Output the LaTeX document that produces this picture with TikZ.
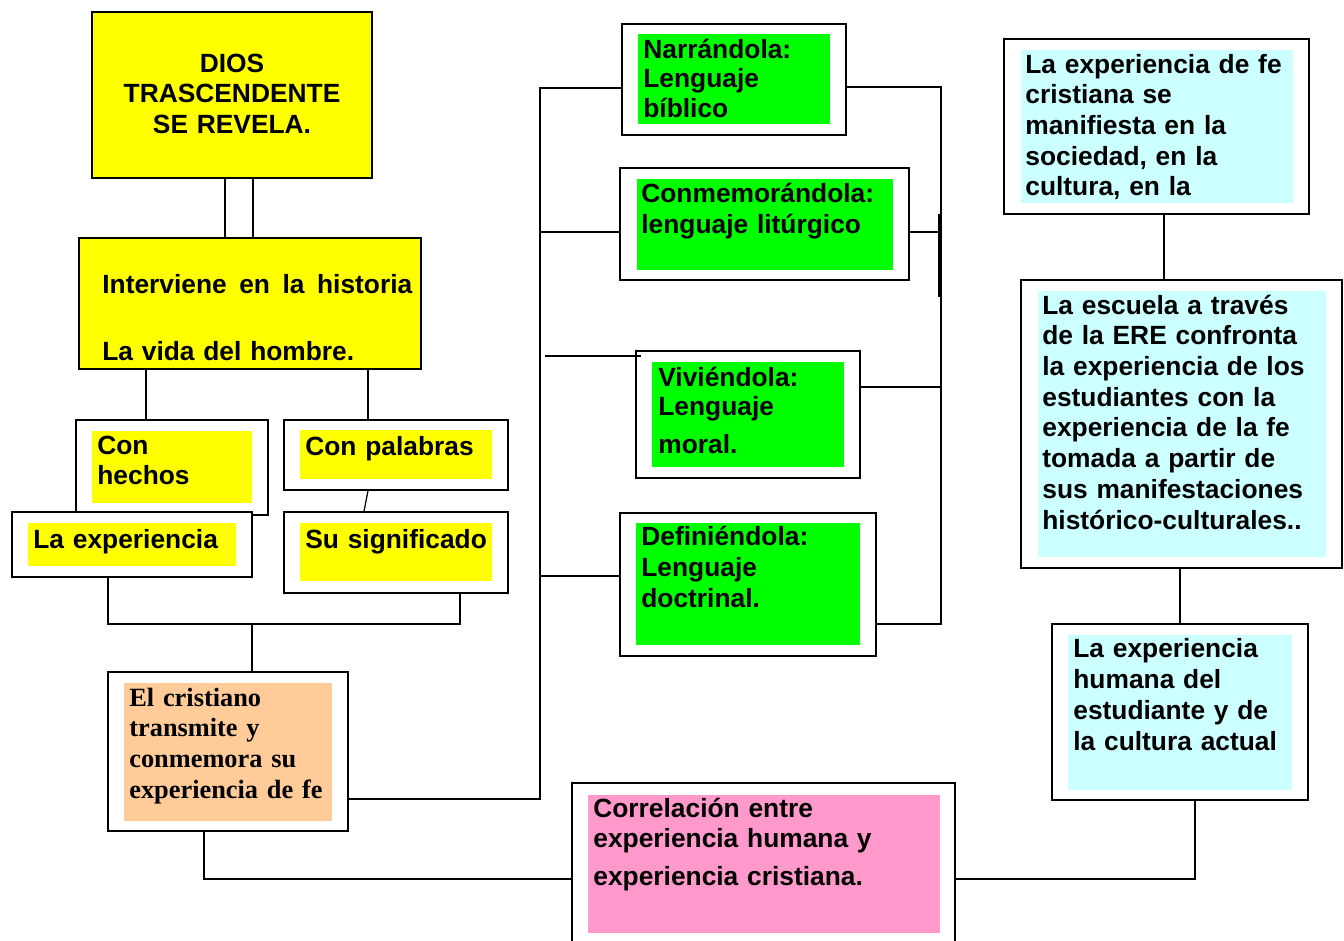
\documentclass[tikz,border=0pt]{standalone}
\usepackage{fontspec}
\setmainfont{Liberation Sans}
\newfontfamily\timesfont{Liberation Serif}
\usetikzlibrary{fit}
\definecolor{amarillo}{HTML}{FFFF00}
\definecolor{verde}{HTML}{00FF00}
\definecolor{celeste}{HTML}{CCFFFF}
\definecolor{durazno}{HTML}{FFCC99}
\definecolor{rosa}{HTML}{FF99CC}
\begin{document}
\begin{tikzpicture}[x=0.02cm,y=-0.02cm,
  caja/.style={draw,line width=0.8pt,fill=white,inner sep=0pt},
  fondo/.style={inner sep=0pt,fill=#1},
  texto/.style={anchor=base west,inner sep=0pt,text width=7cm,align=left,font=\bfseries\fontsize{15}{17.5}\selectfont},
  linea/.style={line width=0.7pt}]
\useasboundingbox (0,0) rectangle (1344,940);
\clip (0,0) rectangle (1344,940);
\node[caja,fill=amarillo,fit={(92,12) (372,178)}] (dios) {};
\node[texto,anchor=base,align=center,text width=5cm] (diost) at (232,72) {DIOS\\TRASCENDENTE\\SE REVELA.};
\node[caja,fill=amarillo,fit={(79,238) (421,369)}] (interv) {};
\node[texto,text width=6.2cm] (intervt) at (102,293) {Interviene\hfill en\hfill la\hfill historia};
\node[texto] (intervt2) at (102,360) {La vida del hombre.};
\node[caja,fit={(76,420) (268,515)}] (hechos) {};
\node[fondo=amarillo,fit={(92,431) (252,503)}] (hechosf) {};
\node[texto] (hechost) at (97,454) {Con\\hechos};
\node[caja,fit={(284,420) (508,490)}] (palabras) {};
\node[fondo=amarillo,fit={(300,430) (492,479)}] (palabrasf) {};
\node[texto] (palabrast) at (305,455) {Con palabras};
\node[caja,fit={(12,512) (252,577)}] (exper) {};
\node[fondo=amarillo,fit={(28,523) (236,566)}] (experf) {};
\node[texto] (expert) at (33,548) {La experiencia};
\node[caja,fit={(284,512) (508,593)}] (signif) {};
\node[fondo=amarillo,fit={(300,523) (492,581)}] (signiff) {};
\node[texto] (signift) at (305,548) {Su significado};
\node[caja,fit={(108,672) (348,831)}] (cristiano) {};
\node[fondo=durazno,fit={(124,683) (332,821)}] (cristianof) {};
\node[texto,font=\timesfont\bfseries\fontsize{15}{17.6}\selectfont] (cristianot) at (129,706) {El cristiano\\transmite y\\conmemora su\\experiencia de fe};
\node[caja,fit={(622,24) (846,135)}] (narr) {};
\node[fondo=verde,fit={(638,34) (830,124)}] (narrf) {};
\node[texto,font=\bfseries\fontsize{15}{17}\selectfont] (narrt) at (643,58) {Narrándola:\\Lenguaje\\bíblico};
\node[caja,fit={(620,168) (909,280)}] (conmem) {};
\node[fondo=verde,fit={(637,179) (893,270)}] (conmemf) {};
\node[texto,font=\bfseries\fontsize{15}{18}\selectfont] (conmemt) at (641,202) {Conmemorándola:\\lenguaje litúrgico};
\node[caja,fit={(636,351) (860,478)}] (viv) {};
\node[fondo=verde,fit={(652,362) (844,467)}] (vivf) {};
\node[texto,font=\bfseries\fontsize{15}{17}\selectfont] (vivt) at (658,386) {Viviéndola:\\Lenguaje\\[4.5pt]moral.};
\node[caja,fit={(620,513) (876,656)}] (defin) {};
\node[fondo=verde,fit={(636,523) (860,645)}] (definf) {};
\node[texto,font=\bfseries\fontsize{15}{17.8}\selectfont] (defint) at (641,545) {Definiéndola:\\Lenguaje\\doctrinal.};
\node[caja,fit={(1004,39) (1309,214)}] (manif) {};
\node[fondo=celeste,fit={(1021,50) (1293,203)}] (maniff) {};
\node[texto] (maniftt) at (1025,73) {La experiencia de fe\\cristiana se\\manifiesta en la\\sociedad, en la\\cultura, en la};
\node[caja,fit={(1021,280) (1342,568)}] (escuela) {};
\node[fondo=celeste,fit={(1038,291) (1326,557)}] (escuelaf) {};
\node[texto] (escuelat) at (1042,314) {La escuela a través\\de la ERE confronta\\la experiencia de los\\estudiantes con la\\experiencia de la fe\\tomada a partir de\\sus manifestaciones\\histórico-culturales..};
\node[caja,fit={(1052,624) (1308,800)}] (humana) {};
\node[fondo=celeste,fit={(1068,635) (1292,790)}] (humanaf) {};
\node[texto,font=\bfseries\fontsize{15}{17.8}\selectfont] (humanat) at (1073,657) {La experiencia\\humana del\\estudiante y de\\la cultura actual};
\node[caja,fit={(572,783) (955,960)}] (correl) {};
\node[fondo=rosa,fit={(588,795) (940,933)}] (correlf) {};
\node[texto] (correlt) at (593,817) {Correlación entre\\experiencia humana y\\[4pt]experiencia cristiana.};
\draw[linea] (dios.south -| 225,0) -- (interv.north -| 225,0);
\draw[linea] (dios.south -| 253,0) -- (interv.north -| 253,0);
\draw[linea] (interv.south -| 146,0) -- (hechos.north -| 146,0);
\draw[linea] (interv.south -| 368,0) -- (palabras.north -| 368,0);
\draw[linea] (palabras.south -| 368,0) -- (signif.north -| 364,0);
\coordinate (jn) at (252,624);
\draw[linea] (exper.south -| 108,0) |- (jn) -| (signif.south -| 460,0);
\draw[linea] (jn) -- (cristiano.north -| jn);
\coordinate (bi1) at (540,88);
\coordinate (bi2) at (540,232);
\coordinate (bi3) at (540,576);
\coordinate (bi4) at (540,799);
\coordinate (vi) at (545,356);
\draw[linea] (cristiano.east |- bi4) -- (bi4) -- (bi1) -- (narr.west |- bi1);
\draw[linea] (bi2) -- (conmem.west |- bi2);
\draw[linea] (bi3) -- (defin.west |- bi3);
\draw[linea,shorten >=-0.12cm] (vi) -- (viv.west |- vi);
\coordinate (bd1) at (941,87);
\coordinate (bd2) at (941,232);
\coordinate (bd3) at (941,387);
\coordinate (bd4) at (941,624);
\draw[linea] (narr.east |- bd1) -- (bd1) -- (bd4) -- (defin.east |- bd4);
\draw[linea] (conmem.east |- bd2) -- (bd2);
\draw[linea] (viv.east |- bd3) -- (bd3);
\draw[line width=1.3pt] (939,214) -- (939,297);
\draw[linea] (manif.south -| 1164,0) -- (escuela.north -| 1164,0);
\draw[linea] (escuela.south -| 1180,0) -- (humana.north -| 1180,0);
\coordinate (ab) at (0,879);
\draw[linea] (humana.south -| 1195,0) |- (correl.east |- ab);
\draw[linea] (cristiano.south -| 204,0) |- (correl.west |- ab);
\end{tikzpicture}
\end{document}
